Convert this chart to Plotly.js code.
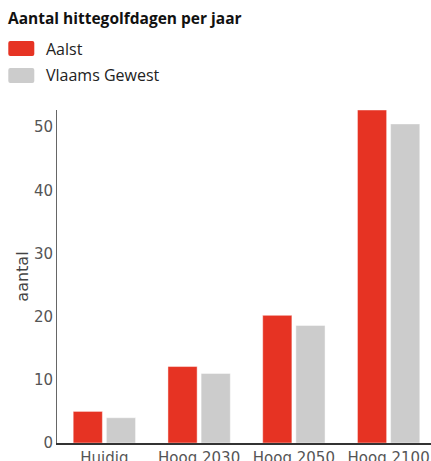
<!DOCTYPE html>
<html>
<head>
<meta charset="utf-8">
<script src="https://cdn.plot.ly/plotly-3.0.1.min.js"></script>
<style>
html,body{margin:0;padding:0;overflow:hidden;background:#fff;width:431px;height:461px;}
#chart{width:436px;height:461px;}
</style>
</head>
<body>
<div id="chart"></div>
<script>
var categories = ['Huidig', 'Hoog 2030', 'Hoog 2050', 'Hoog 2100'];
var seriesNames = ['Aalst', 'Vlaams Gewest'];
var aalst = [5.0, 12.1, 20.2, 52.7];
var vlaams = [4.0, 11.0, 18.6, 50.5];
var colors = ['#e63323', '#cccccc'];
var chartTitle = 'Aantal hittegolfdagen per jaar';
var yTitle = 'aantal';

var W = 436, H = 461;
var ML = 57, MT = 110, MB = 18;
var axFont = 'DejaVu Sans, Verdana, sans-serif';
var txtFont = 'Open Sans, sans-serif';

var traces = [aalst, vlaams].map(function (vals, i) {
  return {
    type: 'bar',
    x: categories,
    y: vals,
    name: seriesNames[i],
    marker: {color: colors[i], line: {color: 'rgba(255,255,255,0.45)', width: 1}},
    hoverinfo: 'none',
    showlegend: false
  };
});

var layout = {
  width: W, height: H,
  margin: {l: ML, r: 0, t: MT, b: MB, pad: 0},
  paper_bgcolor: '#fff', plot_bgcolor: '#fff',
  font: {family: axFont, size: 15, color: '#555'},
  title: {
    text: '<b>' + chartTitle + '</b>',
    xref: 'container', yref: 'container',
    x: 8 / W, xanchor: 'left',
    y: 1 - 19 / H, yanchor: 'middle',
    font: {family: txtFont, size: 15.5, color: '#111'}
  },
  barmode: 'group',
  bargap: 0.30,
  bargroupgap: 0.12,
  xaxis: {
    type: 'category',
    showline: true, linecolor: '#333', linewidth: 2,
    ticks: '', showgrid: false, zeroline: false,
    tickfont: {family: axFont, size: 15, color: '#555'}
  },
  yaxis: {
    range: [0, 52.7],
    tickvals: [0, 10, 20, 30, 40, 50],
    showline: true, linecolor: '#666', linewidth: 1,
    ticks: '', showgrid: false, zeroline: false,
    automargin: true,
    tickfont: {family: axFont, size: 15, color: '#555'},
    title: {text: yTitle, standoff: 1, font: {family: axFont, size: 16, color: '#444'}}
  },
  showlegend: false,
  shapes: [],
  annotations: []
};

// custom legend (not data marks) placed in pixel space via paper coords
var pw = W - ML, ph = H - MT - MB;
function px2x(px) { return (px - ML) / pw; }
function py2y(py) { return (H - MB - py) / ph; }
var legY = [48.5, 75.5];
seriesNames.forEach(function (n, i) {
  var yc = legY[i];
  var a = 8.3, b = 34.3, t = yc - 7.5, u = yc + 7.5, r = 2;
  function P(x, y) { return px2x(x) + ',' + py2y(y); }
  layout.shapes.push({
    type: 'path', xref: 'paper', yref: 'paper', layer: 'above',
    path: 'M' + P(a + r, t) + ' L' + P(b - r, t) + ' Q' + P(b, t) + ' ' + P(b, t + r) +
      ' L' + P(b, u - r) + ' Q' + P(b, u) + ' ' + P(b - r, u) +
      ' L' + P(a + r, u) + ' Q' + P(a, u) + ' ' + P(a, u - r) +
      ' L' + P(a, t + r) + ' Q' + P(a, t) + ' ' + P(a + r, t) + ' Z',
    fillcolor: colors[i], line: {width: 0}
  });
  layout.annotations.push({
    xref: 'paper', yref: 'paper',
    x: px2x(44), y: py2y(yc), xanchor: 'left', yanchor: 'middle',
    text: n, showarrow: false,
    font: {family: txtFont, size: 16, color: '#222'}
  });
});

Plotly.newPlot('chart', traces, layout, {displayModeBar: false, staticPlot: true});
</script>
</body>
</html>
